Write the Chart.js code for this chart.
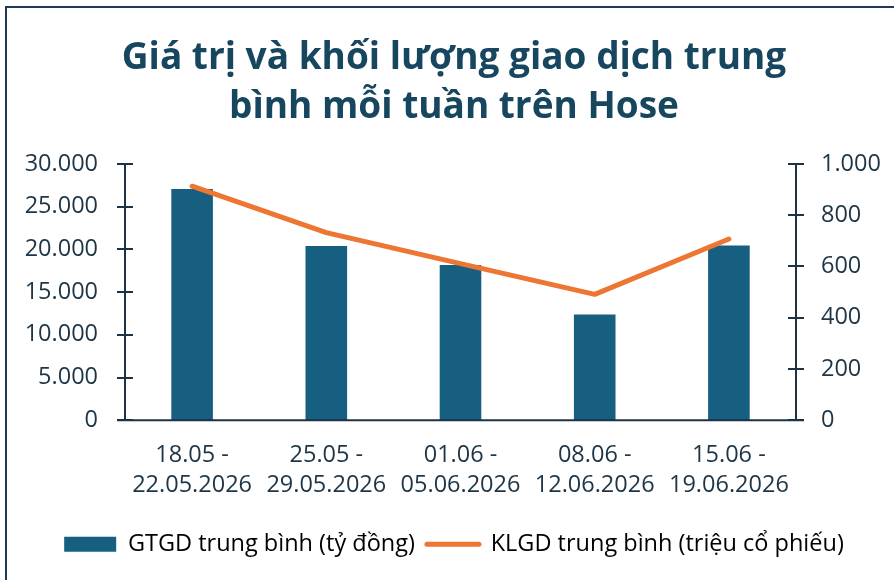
<!DOCTYPE html>
<html>
<head>
<meta charset="utf-8">
<script src="https://cdn.jsdelivr.net/npm/chart.js@4/dist/chart.umd.min.js"></script>
<style>
  html, body { margin: 0; padding: 0; background: #fff; }
  #wrap { position: relative; width: 894px; height: 580px; overflow: hidden; }
  #frame { position: absolute; left: 5px; top: 6px; width: 920px; height: 600px;
           border-left: 2px solid #1e3a5a; border-top: 2px solid #1e3a5a; box-sizing: border-box; }
  canvas { position: absolute; left: 0; top: 0; }
</style>
</head>
<body>
<div id="wrap">
  <div id="frame"></div>
  <canvas id="myChart" width="894" height="580"></canvas>
</div>
<script>
// du lieu
const weeks = [
  ['18.05 -', '22.05.2026'],
  ['25.05 -', '29.05.2026'],
  ['01.06 -', '05.06.2026'],
  ['08.06 -', '12.06.2026'],
  ['15.06 -', '19.06.2026']
];
const gtgd = [27050, 20400, 18170, 12380, 20450]; // tỷ đồng
const klgd = [913, 732, 611, 491, 707];           // triệu cổ phiếu
const seriesNames = ['GTGD trung bình (tỷ đồng)', 'KLGD trung bình (triệu cổ phiếu)'];

const AXIS = '#1b3247';
const TXT = '#1d3546';
const BLUE = '#175f80';
const ORANGE = '#ed7632';

const fmt = v => Number(v).toLocaleString('de-DE');

// ve vach chia cat ngang truc (kieu Excel)
const crossTicks = {
  id: 'crossTicks',
  afterDraw(chart) {
    const c = chart.ctx;
    const a = chart.chartArea;
    c.save();
    c.strokeStyle = AXIS;
    c.lineWidth = 2;
    ['y', 'y1'].forEach(id => {
      const s = chart.scales[id];
      const x = id === 'y' ? a.left : a.right;
      c.beginPath();
      c.moveTo(x, a.top);
      c.lineTo(x, a.bottom);
      s.ticks.forEach(t => {
        const py = Math.round(s.getPixelForValue(t.value));
        c.moveTo(x - 8, py);
        c.lineTo(x + 8, py);
      });
      c.stroke();
    });
    c.beginPath();
    c.moveTo(a.left - 8, a.bottom);
    c.lineTo(a.right + 8, a.bottom);
    c.stroke();
    c.restore();
  }
};

Chart.defaults.font.family = '"Open Sans", sans-serif';
Chart.defaults.color = TXT;

let ctx = document.getElementById('myChart').getContext('2d');
let chart = new Chart(ctx, {
  type: 'bar',
  data: {
    labels: weeks,
    datasets: [
      {
        type: 'line',
        label: seriesNames[1],
        data: klgd,
        yAxisID: 'y1',
        borderColor: ORANGE,
        backgroundColor: ORANGE,
        borderWidth: 5,
        borderCapStyle: 'round',
        borderJoinStyle: 'round',
        pointRadius: 0,
        tension: 0,
        order: 0
      },
      {
        label: seriesNames[0],
        data: gtgd,
        yAxisID: 'y',
        backgroundColor: BLUE,
        barPercentage: 0.31,
        categoryPercentage: 1,
        order: 1
      }
    ]
  },
  options: {
    responsive: false,
    animation: false,
    layout: { padding: { left: 14, right: 0, top: 18, bottom: 14 } },
    plugins: {
      title: {
        display: true,
        text: ['Giá trị và khối lượng giao dịch trung', 'bình mỗi tuần trên Hose'],
        color: '#17465f',
        font: { size: 37, weight: 'bold', lineHeight: 1.35 },
        padding: { top: 15, bottom: 31 }
      },
      legend: {
        position: 'bottom',
        labels: {
          usePointStyle: true,
          pointStyleWidth: 52,
          boxHeight: 15,
          padding: 12,
          color: TXT,
          font: { size: 23.5 },
          generateLabels(chart) {
            return [
              { text: seriesNames[0], fillStyle: BLUE, strokeStyle: BLUE, lineWidth: 0,
                pointStyle: 'rect', datasetIndex: 1 },
              { text: seriesNames[1], fillStyle: ORANGE, strokeStyle: ORANGE, lineWidth: 5,
                lineCap: 'round', pointStyle: 'line', datasetIndex: 0 }
            ];
          }
        }
      },
      tooltip: { enabled: false }
    },
    scales: {
      x: {
        grid: { display: false, drawTicks: false },
        border: { display: false },
        ticks: { padding: 21, color: TXT, font: { size: 23.5, lineHeight: 1.24 }, maxRotation: 0 }
      },
      y: {
        position: 'left',
        min: 0, max: 30000,
        grid: { display: false, drawTicks: false },
        border: { display: false },
        afterFit(s) { s.width = 111; },
        ticks: { stepSize: 5000, padding: 27, color: TXT, font: { size: 23.5 }, callback: fmt }
      },
      y1: {
        position: 'right',
        min: 0, max: 1000,
        grid: { display: false, drawTicks: false },
        border: { display: false },
        afterFit(s) { s.width = 98; },
        ticks: { stepSize: 200, padding: 25, color: TXT, font: { size: 23.5 }, callback: fmt }
      }
    }
  },
  plugins: [crossTicks]
});
</script>
</body>
</html>
